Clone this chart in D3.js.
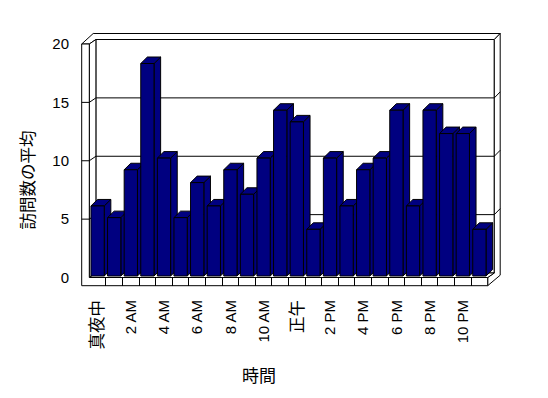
<!DOCTYPE html>
<html>
<head>
<meta charset="utf-8">
<script src="https://cdn.jsdelivr.net/npm/d3@7"></script>
<style>
body { margin: 0; background: #fff; }
text { font-family: "Liberation Sans", "Noto Sans CJK JP", sans-serif; fill: #000; }
text.cjk { font-family: "Noto Sans CJK JP", sans-serif; }
</style>
</head>
<body>
<svg width="548" height="398"></svg>
<script>
// hours of the day, average visits per hour
var hourLabels = ["真夜中", "1 AM", "2 AM", "3 AM", "4 AM", "5 AM", "6 AM", "7 AM", "8 AM", "9 AM", "10 AM", "11 AM",
	"正午", "1 PM", "2 PM", "3 PM", "4 PM", "5 PM", "6 PM", "7 PM", "8 PM", "9 PM", "10 PM", "11 PM"];
var avgVisits = [6, 5, 9.1, 18.2, 10.1, 5, 8, 6, 9.1, 7, 10.1, 14.2, 13.2, 4, 10.1, 6, 9.1, 10.1, 14.2, 6, 14.2, 12.2, 12.2, 4];
var yTicks = [0, 5, 10, 15, 20];
var yTitle = "訪問数の平均",
	xTitle = "時間";

var svg = d3.select("svg");

var x = d3.scaleBand()
	.domain(hourLabels)
	.range([89.3, 487.7])
	.paddingInner(0.2)
	.paddingOuter(0.1);
var step = x.step();

var y = d3.scaleLinear()
	.domain([0, 20])
	.range([277.5, 44]);

var xL = 81.7,            // outer face of left wall
	x0 = x.range()[0],
	x1 = x.range()[1],
	yT = y(20),
	yB = y(0),
	yFloor = 285.7,
	wi = [6.6, -4.5],      // front -> back wall inner face
	wo = [12.5, -10.5],    // front -> back wall outer face
	bd = [6.6, -6.5],      // bar depth
	lift = 1.5;

function poly(pts) {
	return "M" + pts.map(function(p) { return p[0] + "," + p[1]; }).join("L") + "Z";
}

function isCjk(s) { return /[^\x00-\x7f]/.test(s); }

var box = svg.append("g").attr("class", "box")
	.attr("fill", "#fff").attr("stroke", "#000").attr("stroke-width", 1);

// back wall
box.append("path").attr("d", poly([[x0 + wi[0], yT + wi[1]], [x1 + wi[0], yT + wi[1]], [x1 + wi[0], yB + wi[1]], [x0 + wi[0], yB + wi[1]]]));
// top edge of walls
box.append("path").attr("d", poly([[xL, yT], [x0, yT], [x0 + wi[0], yT + wi[1]], [x1 + wi[0], yT + wi[1]], [x1 + wo[0], yT + wo[1]], [xL + wo[0] - 1, yT + wo[1]]]));
// right side of back wall and floor
box.append("path").attr("d", poly([[x1 + wi[0], yT + wi[1]], [x1 + wo[0], yT + wo[1]], [x1 + wo[0], yFloor + wo[1]], [x1, yFloor], [x1, yB], [x1 + wi[0], yB + wi[1]]]));
// left wall inner side
box.append("path").attr("d", poly([[x0, yT], [x0 + wi[0], yT + wi[1]], [x0 + wi[0], yB + wi[1]], [x0, yB]]));
// floor top
box.append("path").attr("d", poly([[x0, yB], [x0 + wi[0], yB + wi[1]], [x1 + wi[0], yB + wi[1]], [x1, yB]]));
// left wall front + floor front
box.append("path").attr("d", poly([[xL, yT], [x0, yT], [x0, yB], [x1, yB], [x1, yFloor], [xL, yFloor]]));

// gridlines
var grid = svg.append("g").attr("class", "grid").attr("fill", "none").attr("stroke", "#000");
grid.selectAll("path")
	.data(yTicks.filter(function(d) { return d > 0 && d < 20; }))
	.enter().append("path")
	.attr("d", function(d) {
		var v = y(d);
		return "M" + xL + "," + v + "L" + x0 + "," + v +
			"L" + (x0 + wi[0]) + "," + (v + wi[1]) +
			"L" + (x1 + wi[0]) + "," + (v + wi[1]) +
			"L" + (x1 + wo[0]) + "," + (v + wo[1]);
	});

// floor ticks between categories
svg.append("g").attr("stroke", "#000")
	.selectAll("line")
	.data(hourLabels.slice(1))
	.enter().append("line")
	.attr("x1", function(d) { return x(d) - step * 0.1; })
	.attr("x2", function(d) { return x(d) - step * 0.1; })
	.attr("y1", yB)
	.attr("y2", yFloor)
	.attr("shape-rendering", "crispEdges");

// bars
var bars = svg.append("g").attr("class", "bars")
	.selectAll("g")
	.data(avgVisits)
	.enter().append("g")
	.attr("fill", "#000080")
	.attr("stroke", "#000")
	.attr("stroke-width", 1);

bars.each(function(d, i) {
	var g = d3.select(this),
		l = x(hourLabels[i]),
		r = l + x.bandwidth(),
		t = y(d) - lift,
		b = yB - lift;
	g.append("path").attr("d", poly([[r, t], [r + bd[0], t + bd[1]], [r + bd[0], b + bd[1]], [r, b]]));
	g.append("path").attr("d", poly([[l, t], [l + bd[0], t + bd[1]], [r + bd[0], t + bd[1]], [r, t]]));
	g.append("path").attr("d", poly([[l, t], [r, t], [r, b], [l, b]]));
});

// y labels
svg.append("g").selectAll("text")
	.data(yTicks)
	.enter().append("text")
	.attr("x", 69)
	.attr("y", function(d) { return y(d); })
	.attr("dy", "0.35em")
	.attr("text-anchor", "end")
	.style("font-size", "15px")
	.text(function(d) { return d; });

// x labels, every other hour
svg.append("g").selectAll("text")
	.data(hourLabels.filter(function(d, i) { return i % 2 === 0; }))
	.enter().append("text")
	.attr("class", function(d) { return isCjk(d) ? "cjk" : null; })
	.attr("transform", function(d) {
		return "translate(" + (x(d) + x.bandwidth() / 2) + ",300) rotate(-90)";
	})
	.attr("dy", "0.35em")
	.attr("text-anchor", "end")
	.attr("fill", "#000")
	.style("font-size", function(d) { return isCjk(d) ? "16.5px" : "15px"; })
	.text(function(d) { return d; });

svg.append("text")
	.attr("class", "cjk")
	.attr("transform", "translate(28,180) rotate(-90)")
	.attr("dy", "0.35em")
	.attr("text-anchor", "middle")
	.style("font-size", "16.5px")
	.text(yTitle);

svg.append("text")
	.attr("class", "cjk")
	.attr("x", 259)
	.attr("y", 376)
	.attr("dy", "0.35em")
	.attr("text-anchor", "middle")
	.style("font-size", "17px")
	.text(xTitle);
</script>
</body>
</html>
